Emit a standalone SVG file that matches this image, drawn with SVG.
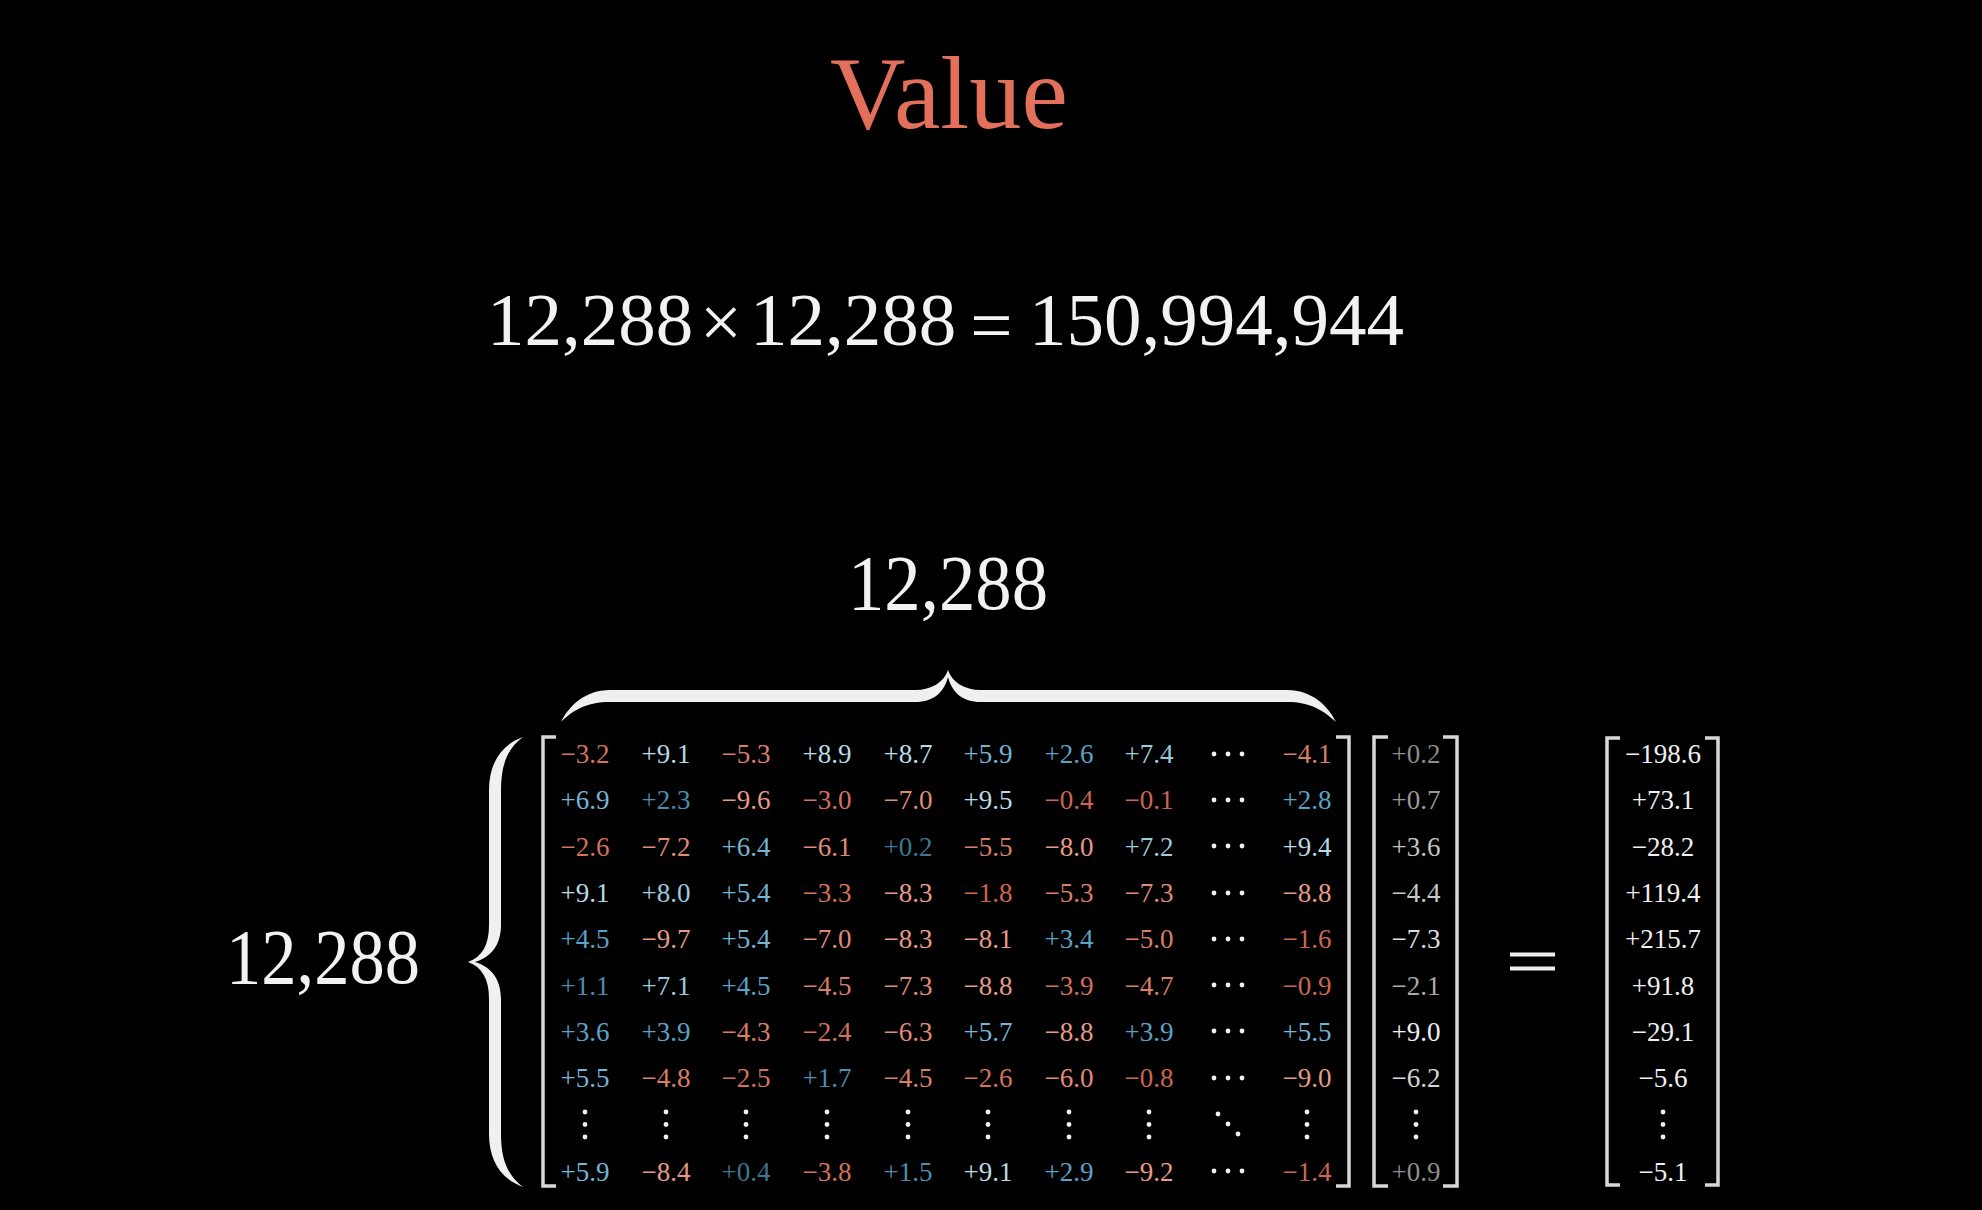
<svg xmlns="http://www.w3.org/2000/svg" width="1982" height="1210" viewBox="0 0 1982 1210">
<style>
text{font-family:"Liberation Serif","DejaVu Serif",serif}
.big{fill:#f2f2f2;font-size:78px}
.eq{fill:#f2f2f2;font-size:75px}
.c{font-size:27px;text-anchor:middle}
.b0{fill:#3e7890}.b1{fill:#4a8daf}.b2{fill:#5aa2c8}.b3{fill:#74b4d6}.b4{fill:#9ccbde}.b5{fill:#b9dbe7}
.r0{fill:#cc6650}.r1{fill:#d4725b}.r2{fill:#da7e68}.r3{fill:#e08b76}.r4{fill:#e69b87}
.w{fill:#f0f0f0}
.br{fill:none;stroke:#d8d8d8;stroke-width:3.5}
.dot{fill:#f0f0f0}
</style>
<defs>
<g id="hd"><circle cx="-14" cy="0" r="2.4"/><circle cx="0" cy="0" r="2.4"/><circle cx="14" cy="0" r="2.4"/></g>
<g id="vd"><circle cx="0" cy="-12.5" r="2.4"/><circle cx="0" cy="0" r="2.4"/><circle cx="0" cy="12.5" r="2.4"/></g>
</defs>
<rect width="1982" height="1210" fill="#000"/>

<g id="title"><text x="949" y="128" text-anchor="middle" font-size="104" fill="#e3705a" textLength="238" lengthAdjust="spacingAndGlyphs">Value</text></g>

<g id="equation">
<text class="eq" x="487" y="345">12,288</text>
<text class="eq" x="721" y="347" text-anchor="middle" font-size="80">×</text>
<text class="eq" x="750" y="345">12,288</text>
<text class="eq" x="991.5" y="350" text-anchor="middle" font-size="98">=</text>
<text class="eq" x="1029" y="345">150,994,944</text>
</g>

<g id="label-top"><text class="big" x="948" y="609" text-anchor="middle" textLength="200" lengthAdjust="spacingAndGlyphs">12,288</text></g>
<g id="label-left"><text class="big" x="323" y="983" text-anchor="middle" textLength="194" lengthAdjust="spacingAndGlyphs">12,288</text></g>

<g id="braces" fill="#f0f0f0">
<path d="M561,722 C569,706 585,690 610,690 L915,690 C932,690 944,682 948,670 C952,682 964,690 981,690 L1287,690 C1312,690 1328,706 1336,722 C1323,710 1310,702 1287,702 L981,702 C962,702 952,692 948,677 C944,692 934,702 915,702 L610,702 C587,702 573,710 561,722 Z"/>
<path d="M523,737 C500,745 489,765 489,790 L489,925 C489,945 482,957 468,962 C482,967 489,979 489,999 L489,1134 C489,1159 500,1179 523,1187 C508,1176 501,1160 501,1134 L501,999 C501,980 492,967 475,962 C492,957 501,944 501,925 L501,790 C501,764 508,748 523,737 Z"/>
</g>

<g id="brackets">
<path class="br" d="M556,737 H543 V1186 H556"/>
<path class="br" d="M1336,737 H1349 V1186 H1336"/>
<path class="br" d="M1388,737 H1374 V1186 H1388"/>
<path class="br" d="M1443,737 H1457 V1186 H1443"/>
<path class="br" d="M1620,738 H1607 V1185 H1620"/>
<path class="br" d="M1705,738 H1718 V1185 H1705"/>
</g>

<g id="matrix" class="c">
<text x="585" y="763" class="c r1">−3.2</text><text x="666" y="763" class="c b5">+9.1</text><text x="746" y="763" class="c r2">−5.3</text><text x="827" y="763" class="c b5">+8.9</text><text x="908" y="763" class="c b5">+8.7</text><text x="988" y="763" class="c b3">+5.9</text><text x="1069" y="763" class="c b2">+2.6</text><text x="1149" y="763" class="c b4">+7.4</text><text x="1307" y="763" class="c r2">−4.1</text>
<text x="585" y="809.3" class="c b3">+6.9</text><text x="666" y="809.3" class="c b1">+2.3</text><text x="746" y="809.3" class="c r4">−9.6</text><text x="827" y="809.3" class="c r1">−3.0</text><text x="908" y="809.3" class="c r3">−7.0</text><text x="988" y="809.3" class="c b5">+9.5</text><text x="1069" y="809.3" class="c r0">−0.4</text><text x="1149" y="809.3" class="c r0">−0.1</text><text x="1307" y="809.3" class="c b2">+2.8</text>
<text x="585" y="855.6" class="c r1">−2.6</text><text x="666" y="855.6" class="c r3">−7.2</text><text x="746" y="855.6" class="c b3">+6.4</text><text x="827" y="855.6" class="c r3">−6.1</text><text x="908" y="855.6" class="c b0">+0.2</text><text x="988" y="855.6" class="c r2">−5.5</text><text x="1069" y="855.6" class="c r4">−8.0</text><text x="1149" y="855.6" class="c b4">+7.2</text><text x="1307" y="855.6" class="c b5">+9.4</text>
<text x="585" y="901.9" class="c b5">+9.1</text><text x="666" y="901.9" class="c b4">+8.0</text><text x="746" y="901.9" class="c b3">+5.4</text><text x="827" y="901.9" class="c r1">−3.3</text><text x="908" y="901.9" class="c r4">−8.3</text><text x="988" y="901.9" class="c r0">−1.8</text><text x="1069" y="901.9" class="c r2">−5.3</text><text x="1149" y="901.9" class="c r3">−7.3</text><text x="1307" y="901.9" class="c r4">−8.8</text>
<text x="585" y="948.2" class="c b2">+4.5</text><text x="666" y="948.2" class="c r4">−9.7</text><text x="746" y="948.2" class="c b3">+5.4</text><text x="827" y="948.2" class="c r3">−7.0</text><text x="908" y="948.2" class="c r4">−8.3</text><text x="988" y="948.2" class="c r4">−8.1</text><text x="1069" y="948.2" class="c b2">+3.4</text><text x="1149" y="948.2" class="c r2">−5.0</text><text x="1307" y="948.2" class="c r0">−1.6</text>
<text x="585" y="994.5" class="c b1">+1.1</text><text x="666" y="994.5" class="c b4">+7.1</text><text x="746" y="994.5" class="c b2">+4.5</text><text x="827" y="994.5" class="c r2">−4.5</text><text x="908" y="994.5" class="c r3">−7.3</text><text x="988" y="994.5" class="c r4">−8.8</text><text x="1069" y="994.5" class="c r1">−3.9</text><text x="1149" y="994.5" class="c r2">−4.7</text><text x="1307" y="994.5" class="c r0">−0.9</text>
<text x="585" y="1040.8" class="c b2">+3.6</text><text x="666" y="1040.8" class="c b2">+3.9</text><text x="746" y="1040.8" class="c r2">−4.3</text><text x="827" y="1040.8" class="c r1">−2.4</text><text x="908" y="1040.8" class="c r3">−6.3</text><text x="988" y="1040.8" class="c b3">+5.7</text><text x="1069" y="1040.8" class="c r4">−8.8</text><text x="1149" y="1040.8" class="c b2">+3.9</text><text x="1307" y="1040.8" class="c b3">+5.5</text>
<text x="585" y="1087.1" class="c b3">+5.5</text><text x="666" y="1087.1" class="c r2">−4.8</text><text x="746" y="1087.1" class="c r1">−2.5</text><text x="827" y="1087.1" class="c b1">+1.7</text><text x="908" y="1087.1" class="c r2">−4.5</text><text x="988" y="1087.1" class="c r1">−2.6</text><text x="1069" y="1087.1" class="c r3">−6.0</text><text x="1149" y="1087.1" class="c r0">−0.8</text><text x="1307" y="1087.1" class="c r4">−9.0</text>
<text x="585" y="1180.5" class="c b3">+5.9</text><text x="666" y="1180.5" class="c r4">−8.4</text><text x="746" y="1180.5" class="c b0">+0.4</text><text x="827" y="1180.5" class="c r1">−3.8</text><text x="908" y="1180.5" class="c b1">+1.5</text><text x="988" y="1180.5" class="c b5">+9.1</text><text x="1069" y="1180.5" class="c b2">+2.9</text><text x="1149" y="1180.5" class="c r4">−9.2</text><text x="1307" y="1180.5" class="c r0">−1.4</text>
</g>

<g id="dots" class="dot">
<use href="#hd" x="1228" y="754"/><use href="#hd" x="1228" y="800"/><use href="#hd" x="1228" y="846"/><use href="#hd" x="1228" y="893"/><use href="#hd" x="1228" y="939"/><use href="#hd" x="1228" y="985"/><use href="#hd" x="1228" y="1031"/><use href="#hd" x="1228" y="1078"/><use href="#hd" x="1228" y="1171"/>
<use href="#vd" x="585" y="1124.5"/><use href="#vd" x="666" y="1124.5"/><use href="#vd" x="746" y="1124.5"/><use href="#vd" x="827" y="1124.5"/><use href="#vd" x="908" y="1124.5"/><use href="#vd" x="988" y="1124.5"/><use href="#vd" x="1069" y="1124.5"/><use href="#vd" x="1149" y="1124.5"/><use href="#vd" x="1307" y="1124.5"/>
<circle cx="1218" cy="1114" r="2.4"/><circle cx="1228" cy="1124" r="2.4"/><circle cx="1238" cy="1134" r="2.4"/>
<use href="#vd" x="1416" y="1124.5"/><use href="#vd" x="1663" y="1124.5"/>
</g>

<g id="vector">
<text x="1416" y="763" class="c" fill="#8c8c8c">+0.2</text>
<text x="1416" y="809.3" class="c" fill="#9a9a9a">+0.7</text>
<text x="1416" y="855.6" class="c" fill="#c4c4c4">+3.6</text>
<text x="1416" y="901.9" class="c" fill="#c8c8c8">−4.4</text>
<text x="1416" y="948.2" class="c" fill="#dedede">−7.3</text>
<text x="1416" y="994.5" class="c" fill="#ababab">−2.1</text>
<text x="1416" y="1040.8" class="c" fill="#f0f0f0">+9.0</text>
<text x="1416" y="1087.1" class="c" fill="#d6d6d6">−6.2</text>
<text x="1416" y="1180.5" class="c" fill="#8e8e8e">+0.9</text>
</g>

<g id="equals" fill="#eeeeee"><rect x="1510" y="952.5" width="45" height="4"/><rect x="1510" y="966.5" width="45" height="4"/></g>

<g id="result">
<text x="1663" y="763" class="c w">−198.6</text>
<text x="1663" y="809.3" class="c w">+73.1</text>
<text x="1663" y="855.6" class="c w">−28.2</text>
<text x="1663" y="901.9" class="c w">+119.4</text>
<text x="1663" y="948.2" class="c w">+215.7</text>
<text x="1663" y="994.5" class="c w">+91.8</text>
<text x="1663" y="1040.8" class="c w">−29.1</text>
<text x="1663" y="1087.1" class="c w">−5.6</text>
<text x="1663" y="1180.5" class="c w">−5.1</text>
</g>
</svg>
